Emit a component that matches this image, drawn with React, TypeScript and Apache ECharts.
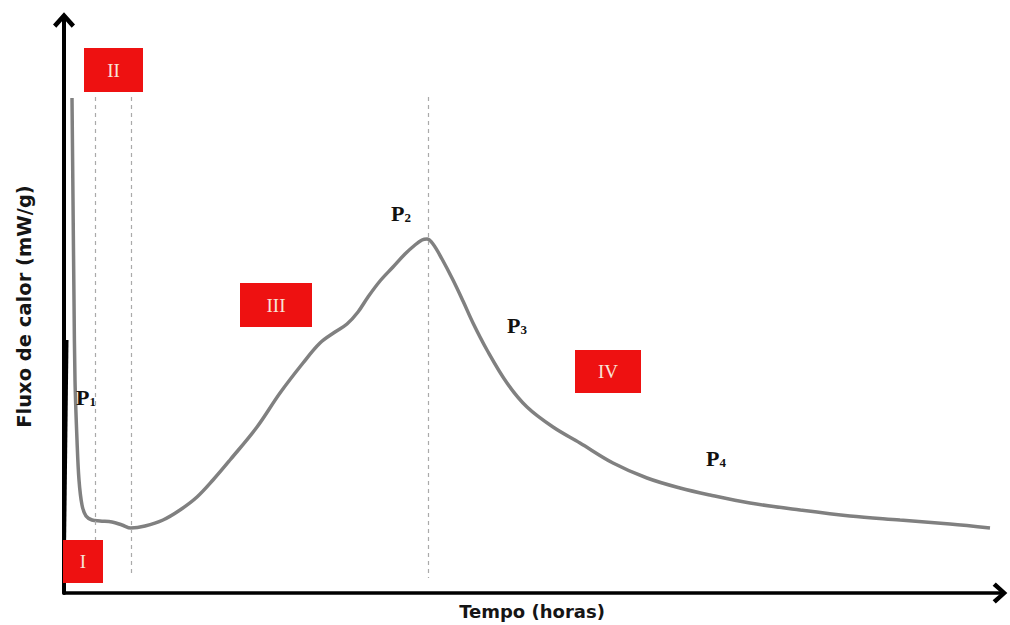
import React, { useEffect, useRef } from "react";
import * as echarts from "echarts";

// Heat-flow curve (time in hours, heat flow in mW/g)
const timeH = [
  0.4, 0.45, 0.5, 0.55, 0.65, 0.75, 0.9, 1.1, 1.4, 1.8, 2.4, 2.9, 3.35, 4.05, 4.95, 5.8, 6.65, 7.45,
  8.3, 9.65, 10.8, 11.95, 12.8, 13.55, 14.15, 14.7, 15.2, 15.8, 16.45, 17.05, 17.55, 17.9, 18.15,
  18.45, 18.9, 19.45, 19.95, 20.45, 21.15, 22.15, 23.15, 24.45, 25.8, 27.45, 29.15, 30.8, 32.3, 34.3,
  36.8, 39.3, 41.8, 44.3, 46.3,
];
const heatFlow = [
  4.95, 3.93, 2.93, 2.13, 1.53, 1.13, 0.88, 0.77, 0.73, 0.72, 0.71, 0.68, 0.65, 0.67, 0.73, 0.83, 0.96,
  1.13, 1.33, 1.66, 2.0, 2.3, 2.5, 2.61, 2.69, 2.81, 2.96, 3.12, 3.26, 3.39, 3.48, 3.53, 3.54, 3.49,
  3.34, 3.13, 2.92, 2.7, 2.43, 2.1, 1.86, 1.66, 1.5, 1.3, 1.15, 1.05, 0.98, 0.9, 0.83, 0.77, 0.73,
  0.69, 0.65,
];
// Initial rise (black)
const riseTime = [0, 0.15];
const riseFlow = [0, 2.53];

// Stage boundaries (dashed lines): x, top, bottom
const boundaryX = [1.55, 3.35, 18.2];
const boundaryTop = [4.96, 4.96, 4.96];
const boundaryBottom = [0.53, 0.18, 0.15];

// Stage labels
const stageNames = ["I", "II", "III", "IV"];
const stageX = [0.95, 2.475, 10.6, 27.2];
const stageY = [0.315, 5.23, 2.88, 2.215];

// Point labels
const pointSub = ["1", "2", "3", "4"];
const pointX = [1.1, 16.85, 22.65, 32.6];
const pointY = [1.96, 3.8, 2.68, 1.35];

const X_MAX = 46.8;
const Y_MAX = 5.73;

export default function App() {
  const ref = useRef<HTMLDivElement>(null);
  useEffect(() => {
    if (!ref.current) return;
    const chart = echarts.init(ref.current, undefined, { renderer: "svg" });
    const chevron = "path://M0,11 L10,0 L20,11 L17,14 L10,6 L3,14 Z";
    const boxSizes = [
      [40, 43],
      [59, 44],
      [72, 44],
      [66, 43],
    ];
    chart.setOption({
      animation: false,
      backgroundColor: "#ffffff",
      grid: { left: 64, right: 10, top: 20, bottom: 32 },
      xAxis: {
        type: "value",
        min: 0,
        max: X_MAX,
        name: "Tempo (horas)",
        nameLocation: "middle",
        nameGap: 9,
        nameTextStyle: { fontFamily: "DejaVu Sans", fontWeight: "bold", fontSize: 18, color: "#151515" },
        axisLine: {
          show: true,
          symbol: ["none", chevron],
          symbolSize: [21, 16],
          lineStyle: { color: "#000", width: 3.5 },
        },
        axisTick: { show: false },
        axisLabel: { show: false },
        splitLine: { show: false },
      },
      yAxis: {
        type: "value",
        min: 0,
        max: Y_MAX,
        name: "Fluxo de calor (mW/g)",
        nameLocation: "middle",
        nameGap: 30,
        nameTextStyle: { fontFamily: "DejaVu Sans", fontWeight: "bold", fontSize: 19.5, color: "#151515" },
        axisLine: {
          show: true,
          symbol: ["none", chevron],
          symbolSize: [22, 20],
          lineStyle: { color: "#000", width: 4 },
        },
        axisTick: { show: false },
        axisLabel: { show: false },
        splitLine: { show: false },
      },
      series: [
        {
          type: "line",
          data: riseTime.map((t, i) => [t, riseFlow[i]]),
          showSymbol: false,
          symbol: "none",
          lineStyle: { color: "#000", width: 3 },
          silent: true,
          z: 3,
        },
        {
          type: "line",
          data: timeH.map((t, i) => [t, heatFlow[i]]),
          showSymbol: false,
          symbol: "none",
          smooth: 0.35,
          lineStyle: { color: "#808080", width: 3.5 },
          silent: true,
          z: 3,
          markLine: {
            silent: true,
            symbol: ["none", "none"],
            label: { show: false },
            lineStyle: { color: "#aaaaaa", type: [4, 4], width: 1.2 },
            data: boundaryX.map((x, i) => [
              { coord: [x, boundaryTop[i]] },
              { coord: [x, boundaryBottom[i]] },
            ]),
          },
        },
        {
          type: "scatter",
          silent: true,
          z: 5,
          data: stageNames.map((n, i) => ({
            name: n,
            value: [stageX[i], stageY[i]],
            symbolSize: boxSizes[i],
          })),
          symbol: "rect",
          itemStyle: { color: "#ee1111", opacity: 1 },
          label: {
            show: true,
            position: "inside",
            formatter: "{b}",
            fontFamily: "Liberation Serif",
            fontSize: 19,
            color: "#f7e4d8",
          },
        },
        {
          type: "scatter",
          silent: true,
          z: 6,
          symbol: "circle",
          symbolSize: 2,
          itemStyle: { color: "rgba(255,255,255,0)" },
          data: pointSub.map((s, i) => ({ name: s, value: [pointX[i], pointY[i]] })),
          label: {
            show: true,
            position: "inside",
            opacity: 1,
            formatter: (p: any) => `{p|P}{s|${p.name}}`,
            rich: {
              p: { fontFamily: "Liberation Serif", fontWeight: "bold", fontSize: 22, color: "#111" },
              s: {
                fontFamily: "Liberation Serif",
                fontWeight: "bold",
                fontSize: 13,
                color: "#111",
                verticalAlign: "bottom",
              },
            },
          },
        },
      ],
    });
    return () => chart.dispose();
  }, []);
  return (
    <div
      ref={ref}
      style={{ position: "fixed", left: 0, top: 0, width: 1010, height: 625 }}
    />
  );
}
